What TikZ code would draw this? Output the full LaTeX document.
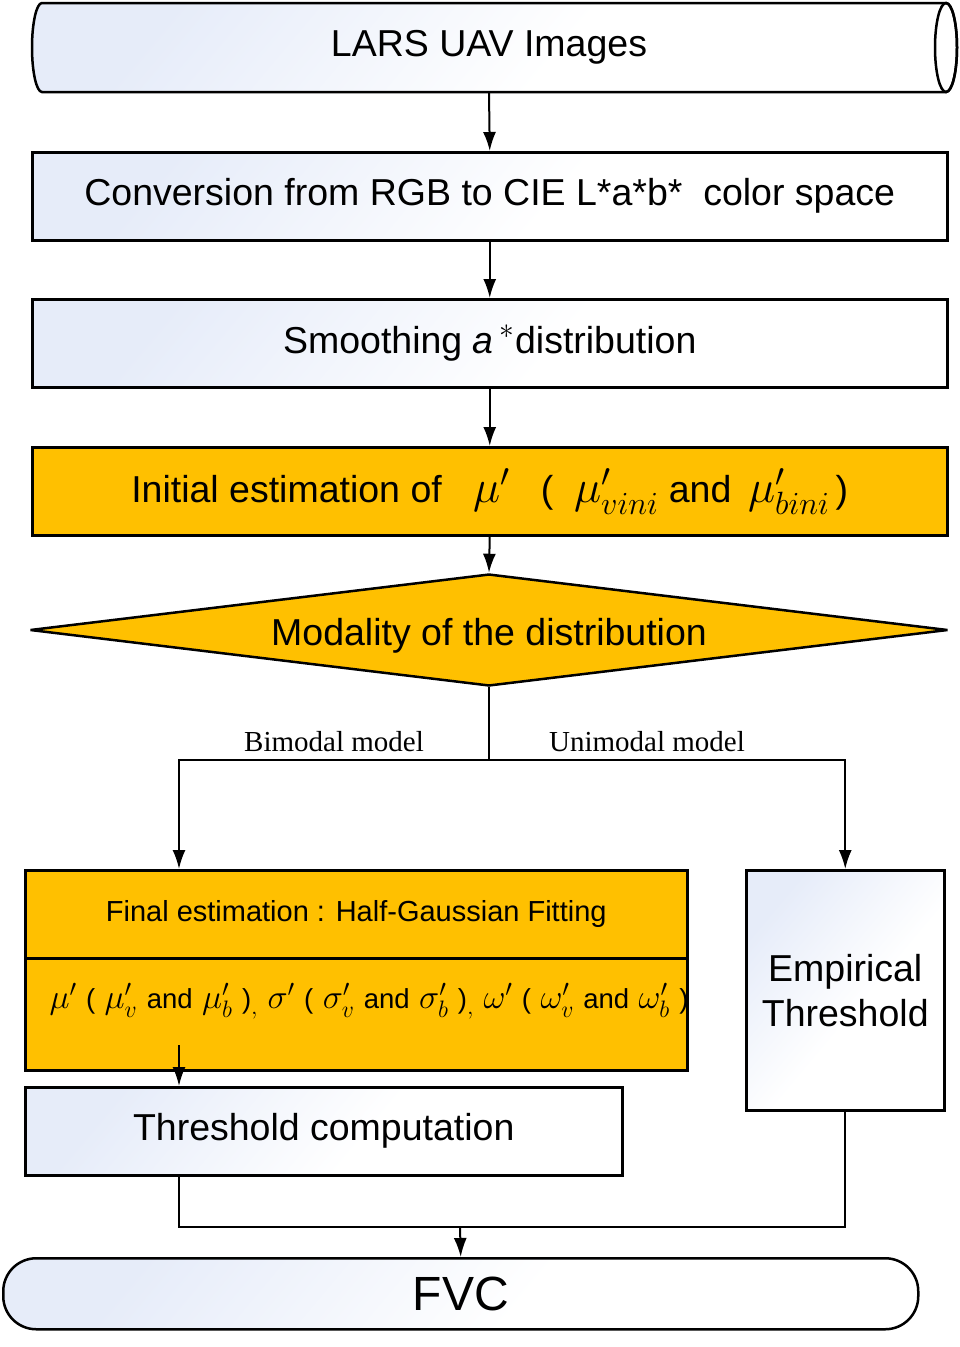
\RequirePackage{fix-cm}
\documentclass[tikz,border=0pt]{standalone}
\usepackage{fontspec}
\setmainfont{Liberation Sans}
\newfontfamily\serifont{Liberation Serif}
\usetikzlibrary{shapes.geometric,arrows.meta}
\definecolor{gbl}{RGB}{230,236,249}
\definecolor{org}{RGB}{255,192,0}
\pgfdeclarehorizontalshading{gshade}{100bp}{color(0bp)=(gbl); color(25bp)=(gbl); color(55bp)=(white); color(100bp)=(white)}
\begin{document}
\begin{tikzpicture}[x=1pt,y=-1pt,
  box/.style={draw, line width=2.5pt, inner sep=0pt, anchor=north west, align=center,
    font=\fontsize{37.5}{45}\selectfont},
  gfill/.style={shading=gshade, shading angle=-40},
  gbox/.style={box, gfill},
  obox/.style={box, fill=org},
  arr/.style={line width=2pt, -{Latex[length=19pt,width=13pt]}},
  ln/.style={line width=2pt},
  lab/.style={font=\serifont\fontsize{29}{34}\selectfont, inner sep=0pt}]
\useasboundingbox (0,0) rectangle (959,1347);
% cylinder
\path[line width=2.5pt, draw, gfill]
  (42,3) -- (946,3) .. controls (952.1,3) and (957,22.9) .. (957,47.5)
  .. controls (957,72.1) and (952.1,92) .. (946,92) -- (42,92)
  .. controls (36.5,92) and (32,72.1) .. (32,47.5)
  .. controls (32,22.9) and (36.5,3) .. (42,3) -- cycle;
\draw[line width=2.5pt] (946,47.5) ellipse [x radius=11, y radius=44.5];
\node[inner sep=0pt, minimum width=914pt, minimum height=89pt,
  font=\fontsize{37.5}{45}\selectfont] (lars) at (489,47.5) {LARS UAV Images};
% boxes
\node[gbox, minimum width=915pt, minimum height=88pt] (conv) at (31,151)
  {Conversion from RGB to CIE L*a*b*\ \ color space};
\node[gbox, minimum width=915pt, minimum height=88pt] (smooth) at (31,298)
  {Smoothing \textit{a}\,{\fontsize{42}{48}\selectfont$^{*}$}distribution};
\node[obox, minimum width=915pt, minimum height=88pt] (init) at (31,446)
  {Initial estimation of\ \ \ {\fontsize{46}{50}\selectfont$\mu'$}\ \ \ (\ \ {\fontsize{46}{50}\selectfont$\mu'_{vini}$} and \,{\fontsize{46}{50}\selectfont$\mu'_{bini}$}\,)};
\node[diamond, draw, line width=2.5pt, miter limit=2, fill=org, aspect=8.2, inner sep=0pt,
  minimum width=918pt, minimum height=112pt] (dia) at (489,630) {};
\node[font=\fontsize{37.5}{45}\selectfont, inner sep=0pt] at (489,636) {Modality of the distribution};
% final estimation
\node[obox, minimum width=662pt, minimum height=88pt, font=\fontsize{29}{34}\selectfont] (fin1) at (24,869)
  {Final estimation : Half-Gaussian Fitting};
\node[obox, minimum width=662pt, minimum height=112pt] (fin2) at (24,957) {};
\node[font=\fontsize{27.5}{32}\selectfont, inner sep=0pt] (form) at (369,1001)
  {\fontsize{34}{40}\selectfont$\mu'$ {\fontsize{27.5}{32}\selectfont(} $\mu'_v$ {\fontsize{27.5}{32}\selectfont and} $\mu'_b$ {\fontsize{27.5}{32}\selectfont)}$_{,}$ $\sigma'$ {\fontsize{27.5}{32}\selectfont(} $\sigma'_v$ {\fontsize{27.5}{32}\selectfont and} $\sigma'_b$ {\fontsize{27.5}{32}\selectfont)}$_{,}$ $\omega'$ {\fontsize{27.5}{32}\selectfont(} $\omega'_v$ {\fontsize{27.5}{32}\selectfont and} $\omega'_b$ {\fontsize{27.5}{32}\selectfont)}};
\node[gbox, minimum width=597pt, minimum height=88pt] (thr) at (24,1086) {Threshold computation};
\node[gbox, minimum width=198pt, minimum height=240pt] (emp) at (745,869) {Empirical\\Threshold};
\node[draw, line width=2.5pt, rounded corners=33pt, gfill,
  minimum width=915pt, minimum height=71pt, inner sep=0pt, anchor=north west,
  font=\fontsize{48}{56}\selectfont] (fvc) at (2,1257) {FVC};
% labels
\node[lab] at (334,742) {Bimodal model};
\node[lab] at (647,742) {Unimodal model};
% connectors
\coordinate (bl) at (179,760);
\coordinate (fs) at (179,1045);
\coordinate (jn) at (460,1227);
\draw[arr] (lars.south) -- (conv.north);
\draw[arr] (conv.south) -- (smooth.north);
\draw[arr] (smooth.south) -- (init.north);
\draw[arr] (init.south) -- (dia.north);
\draw[arr] (dia.south) -- (dia.south |- bl) -| (fin1.north -| bl);
\draw[arr] (dia.south |- bl) -| (emp.north);
\draw[arr] (fs) -- (fs |- thr.north);
\draw[ln] (thr.south -| bl) |- (jn) -| (emp.south);
\draw[arr] (jn) -- (fvc.north);
\end{tikzpicture}
\end{document}
